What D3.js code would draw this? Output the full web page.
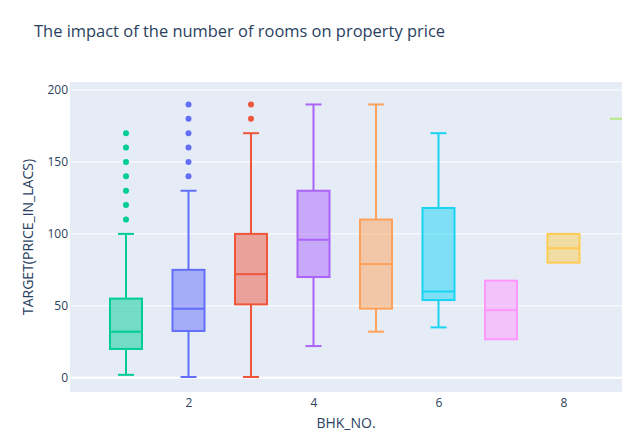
<!DOCTYPE html>
<html>
<head>
<meta charset="utf-8">
<script src="https://cdn.jsdelivr.net/npm/d3@7"></script>
<style>
  body { margin: 0; background: #fff; }
  text { font-family: "Open Sans", verdana, arial, sans-serif; fill: #2a3f5f; }
</style>
</head>
<body>
<div class="chart"></div>
<script>
// one box per BHK count (box stats)
const bhk = [1, 2, 3, 4, 5, 6, 7, 8, 9];
const lowerFence = [2, 0.5, 0.5, 22, 32, 35, 26.7, 80, 180];
const q1 = [20, 32.5, 51, 70, 48, 54, 26.7, 80, 180];
const median = [32, 48, 72, 96, 79, 60, 47, 90, 180];
const q3 = [55, 75, 100, 130, 110, 118, 67.5, 100, 180];
const upperFence = [100, 130, 170, 190, 190, 170, 67.5, 100, 180];
const outliers = [
  [110, 120, 130, 140, 150, 160, 170],
  [140, 150, 160, 170, 180, 190],
  [180, 190],
  [], [], [], [], [], []
];
const colors = ['#00cc96', '#636efa', '#EF553B', '#ab63fa', '#FFA15A', '#19d3f3', '#FF97FF', '#FECB52', '#B6E880'];
const yTicks = [0, 50, 100, 150, 200];
const xTicks = [2, 4, 6, 8];

function drawChart() {
  const w = 636;
  const h = 446;
  const margin = { top: 82, right: 14, bottom: 54, left: 70 };

  const svg = d3.select('.chart')
    .append('svg')
    .attr('width', w)
    .attr('height', h);

  const x = d3.scaleLinear()
    .domain([0.104, 8.936])
    .range([margin.left, w - margin.right]);

  const y = d3.scaleLinear()
    .domain([-9.93, 205.6])
    .range([h - margin.bottom, margin.top]);

  const boxW = x(1.256) - x(1);

  svg.append('defs').append('clipPath')
    .attr('id', 'plot-clip')
    .append('rect')
    .attr('x', margin.left)
    .attr('y', margin.top)
    .attr('width', w - margin.left - margin.right)
    .attr('height', h - margin.top - margin.bottom);

  svg.append('rect')
    .attr('x', margin.left)
    .attr('y', margin.top)
    .attr('width', w - margin.left - margin.right)
    .attr('height', h - margin.top - margin.bottom)
    .attr('fill', '#e5ecf6');

  // gridlines
  svg.append('g')
    .selectAll('line')
    .data(yTicks)
    .enter()
    .append('line')
    .attr('x1', margin.left)
    .attr('x2', w - margin.right)
    .attr('y1', d => y(d))
    .attr('y2', d => y(d))
    .attr('stroke', '#fff')
    .attr('stroke-width', d => d === 0 ? 2 : 1);

  const yAxis = svg.append('g')
    .attr('transform', `translate(${margin.left}, 0)`)
    .call(d3.axisLeft(y).tickValues(yTicks).tickSize(0).tickPadding(2));
  yAxis.select('.domain').remove();
  yAxis.selectAll('text')
    .style('font-size', '12px')
    .attr('fill', '#2a3f5f');

  const xAxis = svg.append('g')
    .attr('transform', `translate(0, ${h - margin.bottom})`)
    .call(d3.axisBottom(x).tickValues(xTicks).tickSize(0).tickPadding(6));
  xAxis.select('.domain').remove();
  xAxis.selectAll('text')
    .style('font-size', '12px')
    .attr('fill', '#2a3f5f');

  const plot = svg.append('g').attr('clip-path', 'url(#plot-clip)');

  const box = plot.selectAll('g.box')
    .data(bhk)
    .enter()
    .append('g')
    .attr('class', 'box');

  // whiskers
  box.append('line')
    .attr('x1', (d) => x(d))
    .attr('x2', (d) => x(d))
    .attr('y1', (d, i) => y(upperFence[i]))
    .attr('y2', (d, i) => y(q3[i]))
    .attr('stroke', (d, i) => colors[i])
    .attr('stroke-width', 2);
  box.append('line')
    .attr('x1', (d) => x(d))
    .attr('x2', (d) => x(d))
    .attr('y1', (d, i) => y(lowerFence[i]))
    .attr('y2', (d, i) => y(q1[i]))
    .attr('stroke', (d, i) => colors[i])
    .attr('stroke-width', 2);
  [upperFence, lowerFence].forEach(arr => {
    box.filter((d, i) => arr[i] !== q1[i] && arr[i] !== q3[i])
      .append('line')
      .attr('x1', (d) => x(d) - boxW / 2)
      .attr('x2', (d) => x(d) + boxW / 2)
      .attr('y1', (d) => y(arr[bhk.indexOf(d)]))
      .attr('y2', (d) => y(arr[bhk.indexOf(d)]))
      .attr('stroke', (d) => colors[bhk.indexOf(d)])
      .attr('stroke-width', 2);
  });

  box.append('rect')
    .attr('x', d => x(d) - boxW)
    .attr('width', boxW * 2)
    .attr('y', (d, i) => y(q3[i]))
    .attr('height', (d, i) => Math.max(0, y(q1[i]) - y(q3[i])))
    .attr('fill', (d, i) => colors[i])
    .attr('fill-opacity', 0.5)
    .attr('stroke', (d, i) => colors[i])
    .attr('stroke-width', 2);

  box.append('line')
    .attr('x1', d => x(d) - boxW)
    .attr('x2', d => x(d) + boxW)
    .attr('y1', (d, i) => y(median[i]))
    .attr('y2', (d, i) => y(median[i]))
    .attr('stroke', (d, i) => colors[i])
    .attr('stroke-width', 2);

  box.selectAll('circle')
    .data((d, i) => outliers[i].map(v => ({ bhk: d, v: v, c: colors[i] })))
    .enter()
    .append('circle')
    .attr('cx', d => x(d.bhk))
    .attr('cy', d => y(d.v))
    .attr('r', 3)
    .attr('fill', d => d.c);

  svg.append('text')
    .attr('x', 34)
    .attr('y', 37)
    .attr('textLength', 411)
    .attr('lengthAdjust', 'spacingAndGlyphs')
    .style('font-size', '17px')
    .text('The impact of the number of rooms on property price');

  svg.append('text')
    .attr('transform', `translate(33, ${(margin.top + h - margin.bottom) / 2}) rotate(-90)`)
    .attr('text-anchor', 'middle')
    .style('font-size', '14px')
    .text('TARGET(PRICE_IN_LACS)');

  svg.append('text')
    .attr('x', (margin.left + w - margin.right) / 2)
    .attr('y', 428)
    .attr('text-anchor', 'middle')
    .style('font-size', '14px')
    .text('BHK_NO.');
}

drawChart();
</script>
</body>
</html>
